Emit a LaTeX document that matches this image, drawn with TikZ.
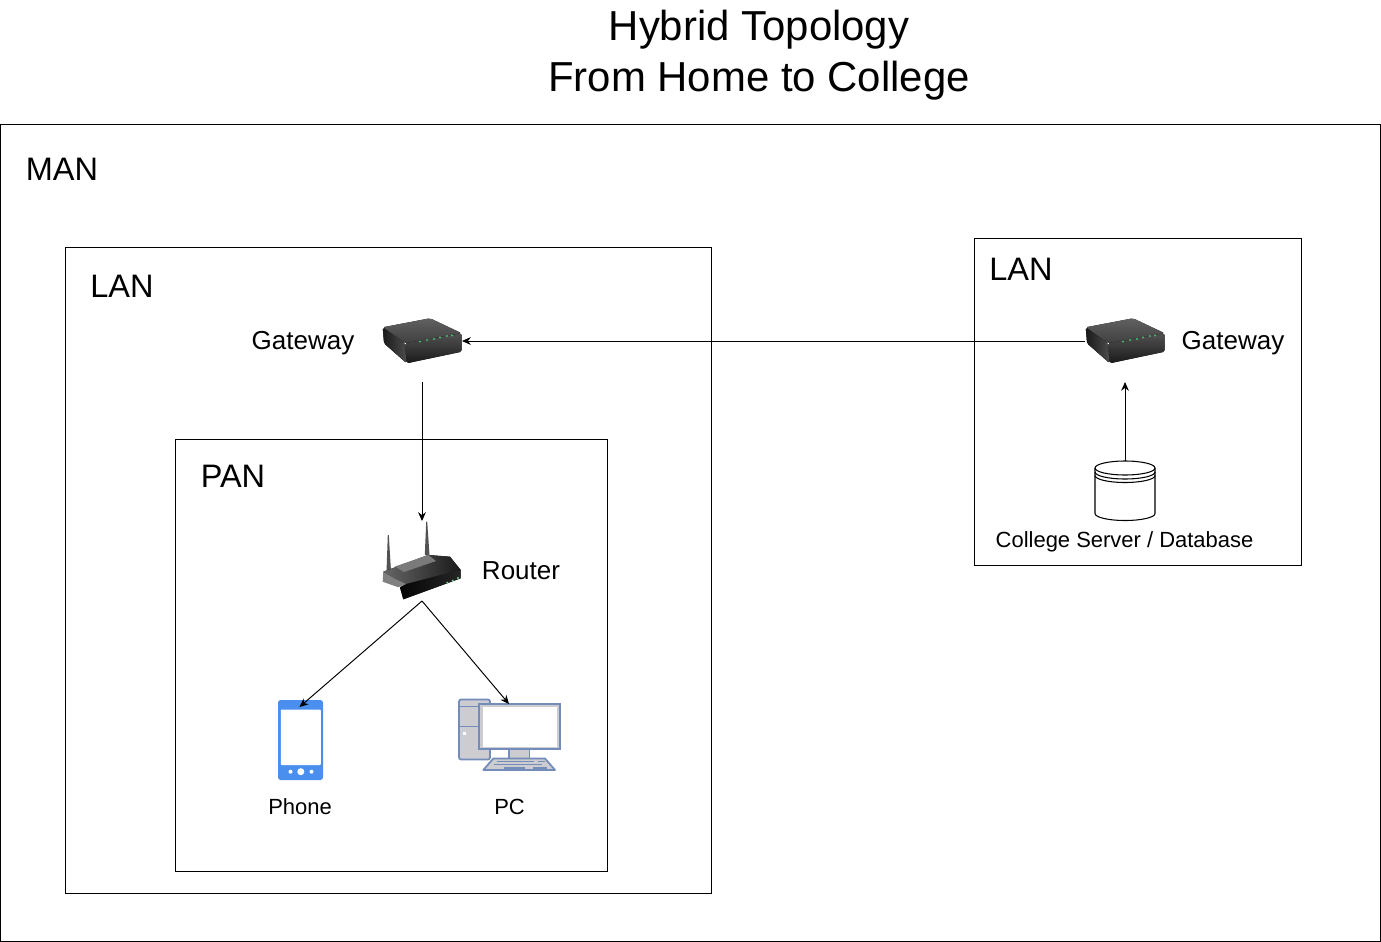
\documentclass[tikz,border=0pt]{standalone}
\usepackage{fontspec}
\setmainfont{Liberation Sans}
\usetikzlibrary{arrows.meta,calc}
\definecolor{PhoneClr}{rgb}{0.29,0.56,0.93}
\definecolor{PcLineClr}{rgb}{0.45,0.55,0.73}
\definecolor{PcFillClr}{rgb}{0.80,0.80,0.82}
\definecolor{LedClr}{rgb}{0.25,0.75,0.45}
\tikzset{
  areabox/.style={draw=black,line width=.6pt},
  arealabel/.style={font=\fontsize{18.5}{22}\selectfont,anchor=center},
  devlabel/.style={font=\fontsize{14.8}{18}\selectfont,anchor=center},
  smalllabel/.style={font=\fontsize{12.5}{15}\selectfont,anchor=center},
  device/.style={inner sep=0pt,outer sep=0pt,minimum width=#1},
  link/.style={line width=.55pt,-{Stealth[length=5pt,width=4.4pt]}},
  gatewayicon/.pic={
    \fill[top color=black!62,bottom color=black!75,rounded corners=1pt] (-39.3,-13.7) -- (8,-22.7) -- (39.7,-7.7) -- (-17,2.3) -- cycle;
    \fill[left color=black!90,right color=black!70,rounded corners=1pt] (-39.3,-13.7) -- (-17,2.3) -- (-15.3,22.3) -- (-38,2.3) -- cycle;
    \fill[top color=black!68,bottom color=black!90,rounded corners=1pt] (-17,2.3) -- (39.7,-7.7) -- (39.7,10.7) -- (-15.3,22.3) -- cycle;
    \foreach \px/\py in {-2/0.5,5/-1,12/-2,18/-3.5,25/-5,30/-5.5}
      \fill[LedClr] (\px,\py) circle (1.1);
  },
  routericon/.pic={
    \fill[black!68] (4.2,-39.3) -- (5.2,-39.3) -- (7.5,-6) -- (2.8,-6) -- cycle;
    \fill[black!68] (-34.2,-26) -- (-33.2,-26) -- (-31,10.7) -- (-35.5,10.7) -- cycle;
    \fill[black!50] (-38.7,10.7) -- (-39.3,20.7) -- (-23.7,26.3) -- (-15.3,23) -- (-27,17.3) -- cycle;
    \fill[left color=black!60,right color=black!90] (-38.7,10.7) -- (6.3,-6) -- (28,-4.3) -- (38.7,9) -- (-15.3,23) -- (-27,17.3) -- cycle;
    \fill[black!52] (-27,5.5) -- (6.3,-6) -- (14,0) -- (-18,11) -- cycle;
    \fill[left color=black!98,right color=black!85] (38.7,9) -- (38.7,17.3) -- (-18.7,38.3) -- (-22,26.3) -- (-15.3,23) -- cycle;
    \foreach \px/\py in {25.3/21.7,30.7/19.7,36/17}
      \fill[LedClr!70!white] (\px,\py) circle (1.1);
  },
  phoneicon/.pic={
    \fill[PhoneClr,rounded corners=1.5pt] (-22.5,-40) rectangle (22.5,40);
    \fill[white,rounded corners=.5pt] (-19.7,-30.5) rectangle (20.3,25);
    \fill[white] (-10,31.7) circle (2) (.3,31.7) circle (3.5) (11,31.7) circle (2);
  },
  pcicon/.pic={
    \begin{scope}[draw=PcLineClr,line width=1pt]
    \filldraw[fill=PcFillClr,rounded corners=1.2pt] (-50,-34) rectangle (-19,26);
    \draw (-50,-27) -- (-19,-27) (-50,-7) -- (-19,-7);
    \filldraw[fill=PcFillClr] (-29.7,-29.5) rectangle (51,15.8);
    \fill[white] (-26.5,-26.8) rectangle (48,13);
    \filldraw[fill=PcFillClr] (0,15.8) rectangle (20.5,25);
    \filldraw[fill=PcFillClr,line join=round] (-15.7,25) -- (36,25) -- (46,36.5) -- (-25.7,36.5) -- cycle;
    \draw (-12,28) -- (25,28) (29,28) -- (36,28) (-15,31) -- (33,31) (-5,34.5) -- (16,34.5) (24,34.5) -- (38,34.5);
    \end{scope}
    \fill[white] (-46.3,-1.5) rectangle (-43.3,1.5);
  },
  dbicon/.pic={
    \filldraw[draw=black,fill=white,line width=.6pt] (-30,-23) -- (-30,22.5) arc[start angle=180,end angle=0,x radius=30,y radius=7] -- (30,-23) arc[start angle=0,end angle=-180,x radius=30,y radius=7] -- cycle;
    \draw[line width=.6pt] (-30,-23) arc[start angle=180,end angle=0,x radius=30,y radius=7];
    \draw[line width=.6pt] (-30,-19) arc[start angle=180,end angle=0,x radius=30,y radius=7];
    \draw[line width=.6pt] (-30,-15.5) arc[start angle=180,end angle=0,x radius=30,y radius=7];
  }
}

\begin{document}
\begin{tikzpicture}[x=.02cm,y=-.02cm]
\useasboundingbox (0,0) rectangle (1381,942);

\node[align=center,font=\fontsize{23.85}{29}\selectfont] (title) at (759,55.5) {Hybrid Topology\\From Home to College};

\draw[areabox] (.5,124.5) rectangle (1380.5,941.5);
\draw[areabox] (65.5,247.5) rectangle (711.5,893.5);
\draw[areabox] (175.5,439.5) rectangle (607.5,871.5);
\draw[areabox] (974.5,238.5) rectangle (1301.5,565.5);

\node[arealabel] (manText) at (62,169) {MAN};
\node[arealabel] (lanLText) at (122,286) {LAN};
\node[arealabel] (panText) at (233,476) {PAN};
\node[arealabel] (lanRText) at (1021,269) {LAN};

\node[device=1.6cm,minimum height=1.28cm] (gatewayL) at (422,350) {};
\node[device=1.6cm,minimum height=1.6cm] (router) at (422,561) {};
\node[device=.9cm,minimum height=1.6cm] (phone) at (300.5,740) {};
\node[device=2.04cm,minimum height=1.46cm] (pc) at (509,733.5) {};
\node[device=1.6cm,minimum height=1.28cm] (gatewayR) at (1125,350) {};
\node[device=1.2cm,minimum height=1.2cm] (database) at (1125,491) {};

\pic at (422,341) {gatewayicon};
\pic at (1125,341) {gatewayicon};
\pic at (router.center) {routericon};
\pic at (phone.center) {phoneicon};
\pic at (pc.center) {pcicon};
\pic at (database.center) {dbicon};

\node[devlabel] (gatewayLText) at (303,343) {Gateway};
\node[devlabel] (gatewayRText) at (1233,343) {Gateway};
\node[devlabel] (routerText) at (521,571) {Router};
\node[smalllabel] (phoneText) at (300,807) {Phone};
\node[smalllabel] (pcText) at (509.5,807) {PC};
\node[smalllabel] (databaseText) at (1124.5,542) {College Server / Database};

\draw[link] (gatewayR.west |- 0,341) -- (gatewayL.east |- 0,341);
\draw[link] (gatewayL.south) -- (router.north);
\draw[link] (database.north) -- (gatewayR.south);
\draw[link] (router.south) -- ($(phone.north)+(-1,7)$);
\draw[link] (router.south) -- ($(pc.north)+(0,7)$);

\end{tikzpicture}
\end{document}
